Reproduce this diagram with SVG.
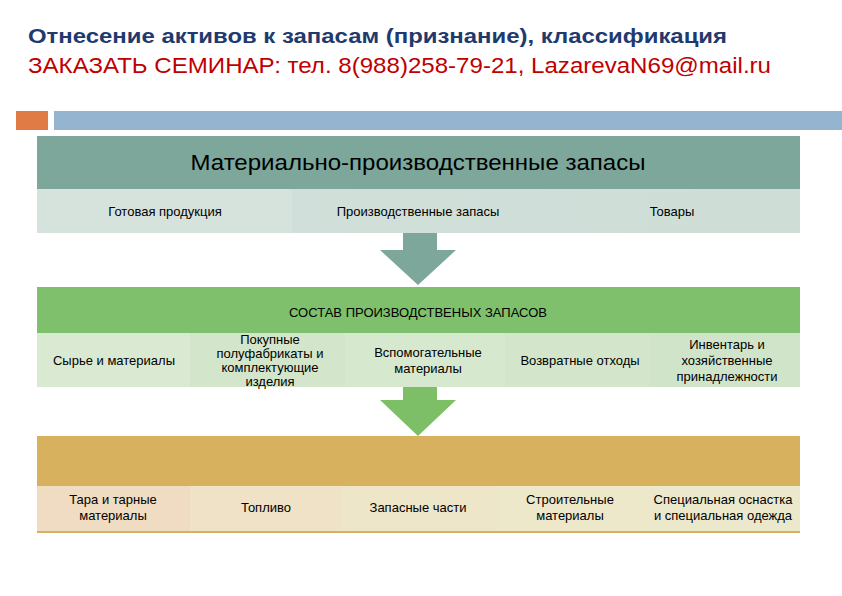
<svg xmlns="http://www.w3.org/2000/svg" width="842" height="596" viewBox="0 0 842 596">
<style>
text{font-family:"Liberation Sans",Arial,sans-serif;fill:#000}
.s{font-size:13px;text-anchor:middle}
</style>
<defs>
<linearGradient id="g1" x1="0" x2="1"><stop offset="0" stop-color="#D2E0DA"/><stop offset="1" stop-color="#CEDED7"/></linearGradient>
</defs>
<rect width="842" height="596" fill="#fff"/>
<text x="28" y="43" font-size="21" font-weight="bold" textLength="699" lengthAdjust="spacingAndGlyphs" style="fill:#1F3A6E">Отнесение активов к запасам (признание), классификация</text>
<text x="28" y="73" font-size="22" textLength="743" lengthAdjust="spacingAndGlyphs" style="fill:#C00000">ЗАКАЗАТЬ СЕМИНАР: тел. 8(988)258-79-21, LazarevaN69@mail.ru</text>
<rect x="16" y="111" width="32" height="19" fill="#E07B46"/>
<rect x="54" y="111" width="788" height="19" fill="#95B4D0"/>
<g id="n1">
<rect x="37" y="136" width="763" height="53" fill="#7CA79A"/>
<text x="418" y="170" font-size="22" text-anchor="middle" textLength="455" lengthAdjust="spacingAndGlyphs">Материально-производственные запасы</text>
<rect x="37" y="189" width="763" height="44" fill="url(#g1)"/>
<rect x="37" y="189" width="255" height="44" fill="#D6E3DD"/>
<text class="s" x="165" y="216">Готовая продукция</text>
<text class="s" x="418" y="216">Производственные  запасы</text>
<text class="s" x="672" y="216">Товары</text>
</g>
<g id="connectors">
<polygon points="403,233 437,233 437,250 456,250 418,285 380,250 403,250" fill="#7CA79A"/>
<polygon points="403,387 437,387 437,400 456,400 418,436 380,400 403,400" fill="#7DBF67"/>
</g>
<g id="n2">
<rect x="37" y="287" width="763" height="46" fill="#7FC06C"/>
<text class="s" x="418" y="317" font-size="11.5">СОСТАВ ПРОИЗВОДСТВЕНЫХ ЗАПАСОВ</text>
<rect x="37" y="333" width="763" height="54" fill="#D3E6CB"/>
<rect x="37" y="333" width="153" height="54" fill="#DAEAD2"/>
<rect x="345" y="333" width="160" height="54" fill="#D6E8CE"/>
<rect x="650" y="333" width="150" height="54" fill="#D0E4CA"/>
<text class="s" x="114" y="365">Сырье и материалы</text>
<text class="s" x="270" y="344">Покупные</text>
<text class="s" x="270" y="358">полуфабрикаты и</text>
<text class="s" x="270" y="372">комплектующие</text>
<text class="s" x="270" y="386">изделия</text>
<text class="s" x="428" y="357">Вспомогательные</text>
<text class="s" x="428" y="373">материалы</text>
<text class="s" x="580" y="365">Возвратные отходы</text>
<text class="s" x="727" y="349">Инвентарь и</text>
<text class="s" x="727" y="365">хозяйственные</text>
<text class="s" x="727" y="381">принадлежности</text>
</g>
<g id="n3">
<rect x="37" y="436" width="763" height="50" fill="#D8B15E"/>
<rect x="37" y="486" width="153" height="45" fill="#F0DCC2"/>
<rect x="190" y="486" width="152" height="45" fill="#EFE2C6"/>
<rect x="342" y="486" width="156" height="45" fill="#EEE6C8"/>
<rect x="498" y="486" width="152" height="45" fill="#EDE8C9"/>
<rect x="650" y="486" width="150" height="45" fill="#ECE8CB"/>
<rect x="37" y="531" width="763" height="2" fill="#D8B15E"/>
<text class="s" x="113" y="504">Тара и тарные</text>
<text class="s" x="113" y="520">материалы</text>
<text class="s" x="266" y="512">Топливо</text>
<text class="s" x="418" y="512">Запасные части</text>
<text class="s" x="570" y="504">Строительные</text>
<text class="s" x="570" y="520">материалы</text>
<text class="s" x="723" y="504" font-size="12.5">Специальная оснастка</text>
<text class="s" x="723" y="520" font-size="12.5">и специальная одежда</text>
</g>
</svg>
